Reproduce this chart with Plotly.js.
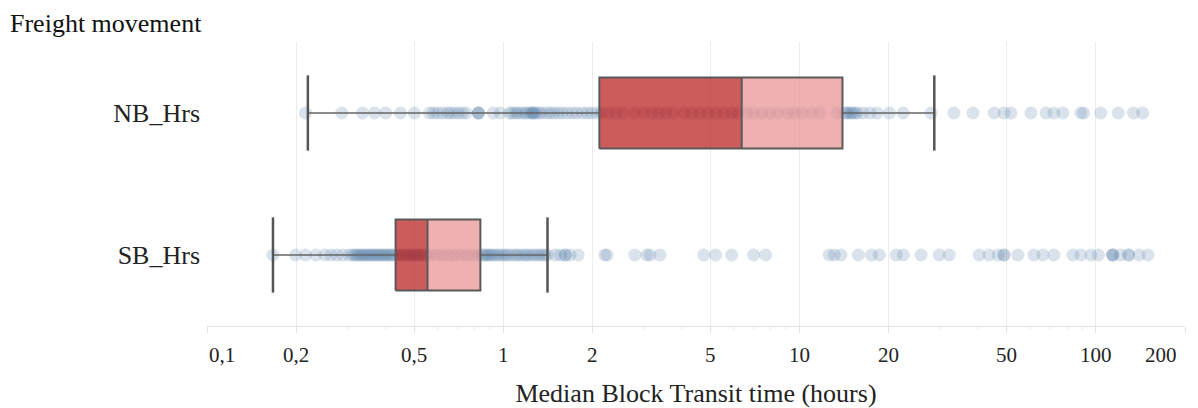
<!DOCTYPE html>
<html><head><meta charset="utf-8">
<script src="https://cdn.plot.ly/plotly-3.0.1.min.js"></script>
<style>html,body{margin:0;padding:0;background:#fff}</style>
</head><body><div id="chart" style="width:1198px;height:408px"></div>
<script>
// ---- data ----
const categories = ['NB_Hrs', 'SB_Hrs'];
const lowerWhisker = [0.219, 0.167];
const q1 = [2.11, 0.433];
const median = [6.38, 0.555];
const q3 = [13.96, 0.837];
const upperWhisker = [28.5, 1.41];

const nbPoints = [0.215, 0.285, 0.335, 0.368, 0.401, 0.45, 0.501, 0.563, 0.581, 0.60, 0.623, 0.648, 0.663, 0.684, 0.705, 0.728, 0.75, 0.824, 0.824, 0.824, 0.925, 0.977,
  1.05, 1.07, 1.10, 1.12, 1.15, 1.18, 1.20, 1.23, 1.25, 1.26, 1.27, 1.29, 1.32, 1.35, 1.40, 1.44, 1.48, 1.53, 1.58, 1.64, 1.71, 1.77, 1.85, 1.92, 1.99, 2.07,
  2.15, 2.27, 2.40, 2.54, 2.78, 2.98, 3.17, 3.35, 3.54, 3.74, 4.07, 4.33, 4.60, 4.90, 5.21, 5.55, 5.90, 6.18,
  6.63, 7.00, 7.45, 7.93, 8.43, 9.11, 9.62, 10.2, 11.0, 11.7, 13.4,
  14.2, 14.4, 14.6, 14.9, 15.1, 15.4, 15.7, 16.4, 17.3, 18.3, 20.1, 22.4, 27.8, 33.2, 38.5, 45.4, 49.0, 51.7, 60.4, 67.9, 72.2, 77.4, 89.0, 91.1, 104, 119, 134, 144];

const sbPoints = [0.167, 0.199, 0.215, 0.233, 0.250, 0.262, 0.274, 0.287, 0.301, 0.310, 0.315, 0.320, 0.325, 0.330, 0.335, 0.340, 0.345, 0.351, 0.356, 0.362, 0.367, 0.373, 0.379, 0.385, 0.391, 0.397, 0.403, 0.410, 0.416, 0.423, 0.43,
  0.443, 0.450, 0.460, 0.470, 0.479, 0.488, 0.498, 0.508, 0.517, 0.527, 0.538, 0.548,
  0.568, 0.595, 0.623, 0.653, 0.684, 0.717, 0.750, 0.787, 0.824,
  0.850, 0.863, 0.877, 0.890, 0.904, 0.920, 0.940, 0.958, 0.977, 1.0, 1.02, 1.04, 1.07, 1.10, 1.12, 1.15, 1.18, 1.20, 1.23, 1.26, 1.29, 1.32, 1.35, 1.38, 1.41,
  1.50, 1.56, 1.62, 1.62, 1.68, 1.79, 2.20, 2.24, 2.78, 3.05, 3.13, 3.38, 4.75, 5.21, 5.90, 7.00, 7.68, 12.6, 13.1, 13.8, 15.8, 17.5, 18.6, 21.2, 22.4, 25.7, 29.6, 32.0,
  40.4, 43.6, 46.8, 49.0, 49.0, 54.6, 61.8, 66.3, 72.2, 83.7, 89.0, 96.2, 102, 114, 114, 114, 121, 129, 129, 140, 150];

const tickVals = [0.1, 0.2, 0.5, 1, 2, 5, 10, 20, 50, 100, 200];
const tickText = ['0,1', '0,2', '0,5', '1', '2', '5', '10', '20', '50', '100', '200'];
const chartTitle = 'Freight movement';
const xTitle = 'Median Block Transit time (hours)';

// ---- drawing ----
const FONT = 'Liberation Serif, Times New Roman, serif';
const rowPos = categories.map((c, i) => categories.length - 1 - i);
const pointSets = [nbPoints, sbPoints];
const H = 0.25;   // half box height (axis units)
const CH = 0.265; // half cap height

const traces = [];
pointSets.forEach((pts, i) => {
  traces.push({
    type: 'scatter', mode: 'markers', x: pts, y: pts.map(() => rowPos[i]),
    marker: {size: 13, color: 'rgba(78,121,167,0.21)', line: {width: 0}},
    hoverinfo: 'x', showlegend: false
  });
});
categories.forEach((c, i) => {
  const y = rowPos[i];
  traces.push({type: 'scatter', mode: 'lines', x: [lowerWhisker[i], q1[i], null, q3[i], upperWhisker[i]], y: [y, y, null, y, y],
    line: {color: '#666', width: 1.5}, hoverinfo: 'skip', showlegend: false});
  traces.push({type: 'scatter', mode: 'lines', x: [lowerWhisker[i], lowerWhisker[i], null, upperWhisker[i], upperWhisker[i]],
    y: [y - CH, y + CH, null, y - CH, y + CH], line: {color: '#555', width: 2.5}, hoverinfo: 'skip', showlegend: false});
});
categories.forEach((c, i) => {
  const y = rowPos[i];
  traces.push({type: 'scatter', mode: 'lines', fill: 'toself', fillcolor: 'rgba(183,22,22,0.7)',
    x: [q1[i], median[i], median[i], q1[i], q1[i]], y: [y - H, y - H, y + H, y + H, y - H],
    line: {width: 0, color: 'rgba(0,0,0,0)'}, hoverinfo: 'skip', showlegend: false});
  traces.push({type: 'scatter', mode: 'lines', fill: 'toself', fillcolor: 'rgba(232,142,142,0.7)',
    x: [median[i], q3[i], q3[i], median[i], median[i]], y: [y - H, y - H, y + H, y + H, y - H],
    line: {width: 0, color: 'rgba(0,0,0,0)'}, hoverinfo: 'skip', showlegend: false});
  traces.push({type: 'scatter', mode: 'lines',
    x: [q1[i], q3[i], q3[i], q1[i], q1[i], null, median[i], median[i]],
    y: [y - H, y - H, y + H, y + H, y - H, null, y - H, y + H],
    line: {color: '#5a5a5a', width: 2}, hoverinfo: 'skip', showlegend: false});
});

// x tick labels as annotations so the edge labels can sit inside the plot width (as in the reference)
const tickAnnotations = tickVals.map((v, i) => ({
  xref: 'x', yref: 'paper', x: Math.log10(v), y: 0, yanchor: 'top', yshift: -15,
  xanchor: i === 0 ? 'left' : (i === tickVals.length - 1 ? 'right' : 'center'),
  xshift: i === tickVals.length - 1 ? -6 : 0,
  text: tickText[i], showarrow: false,
  font: {family: FONT, size: 21, color: '#222'}
}));

const layout = {
  width: 1198, height: 408,
  margin: {l: 207, r: 13, t: 42, b: 82},
  paper_bgcolor: '#fff', plot_bgcolor: '#fff',
  font: {family: FONT, color: '#222'},
  title: {text: chartTitle, x: 10 / 1198, xref: 'container', xanchor: 'left', y: 1 - 23 / 408, yref: 'container', yanchor: 'middle',
    font: {family: FONT, size: 26, color: '#111'}},
  xaxis: {
    type: 'log', range: [Math.log10(tickVals[0]), Math.log10(tickVals[tickVals.length - 1])],
    tickmode: 'array', tickvals: tickVals, showticklabels: false,
    showgrid: true, gridcolor: '#ececec', gridwidth: 1, zeroline: false,
    showline: true, linecolor: '#e2e2e2', linewidth: 1,
    ticks: 'outside', ticklen: 6, tickcolor: '#e2e2e2',
    minor: {dtick: 'D1', ticks: 'outside', ticklen: 3, tickcolor: '#e8e8e8', showgrid: false},
    title: {text: xTitle, font: {family: FONT, size: 26, color: '#222'}, standoff: 52}
  },
  yaxis: {
    range: [-0.5, 1.5], tickmode: 'array', tickvals: rowPos, ticktext: categories,
    tickfont: {family: FONT, size: 26, color: '#222'}, ticklabelstandoff: 6,
    showgrid: false, zeroline: false, showline: false, ticks: '', fixedrange: true
  },
  annotations: tickAnnotations,
  showlegend: false
};

Plotly.newPlot('chart', traces, layout, {displayModeBar: false, staticPlot: true});
</script>
</body></html>
